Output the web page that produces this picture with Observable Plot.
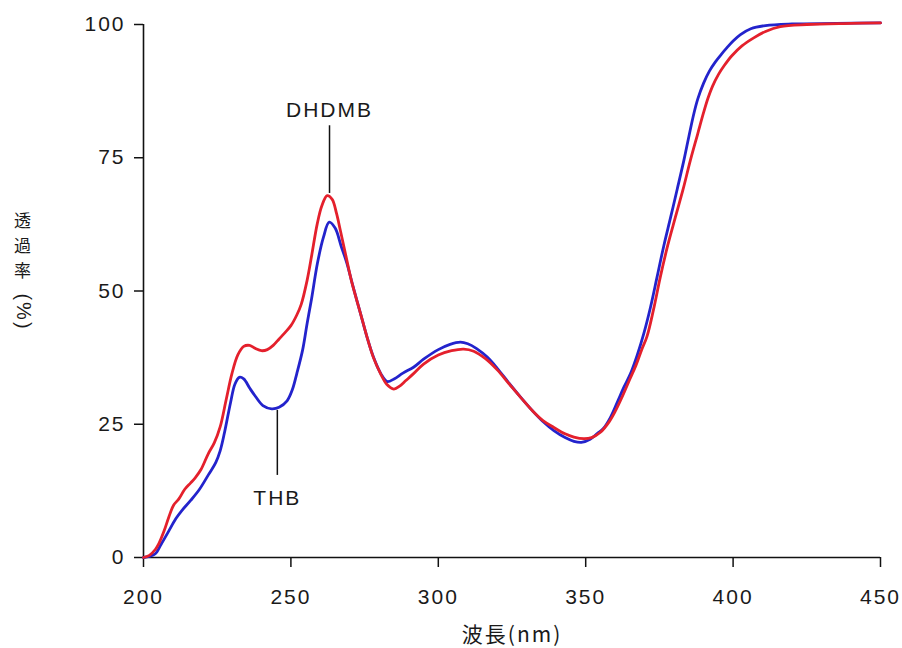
<!DOCTYPE html>
<html><head><meta charset="utf-8">
<script src="https://cdn.jsdelivr.net/npm/d3@7"></script>
<script src="https://cdn.jsdelivr.net/npm/@observablehq/plot@0.6"></script>
<style>body{margin:0;background:#fff;} #chart svg{display:block}</style>
</head><body><div id="chart"></div>
<script>
const xTicks = [200, 250, 300, 350, 400, 450];
const yTicks = [0, 25, 50, 75, 100];

// THB (blue)
const thbWavelength = [200,202,204,206,208.6,211,213,216,219,222,224.5,226,227.5,229.5,231,232.5,234,236,238,240.5,243.5,246,248.7,250.5,252,254,255.5,257,259,261,263,265,267,269,271,273.6,276,278,280.5,282.7,285,288,291.6,295,300,304,307.5,310,313,316.6,320,324,327.9,332,335.5,339.2,343,346,348.5,351.5,354,356,358.4,361,363,365.2,367.5,369.7,372,374.2,376.5,378.8,381,383.3,385,386.7,388,390,392,394,396,398,400,402.5,406,411,420,435,450];
const thbTransmittance = [0,0.2,0.7,2.5,5,7.3,8.8,10.7,12.8,15.5,17.8,20,23.5,29,32.5,33.8,33.5,31.8,30.2,28.5,27.9,28.2,29.4,31.5,34.5,39,43.9,48.5,55.2,60,62.9,61.8,58.5,55.2,51,45.8,41,37.6,34.5,33,33.5,34.6,35.7,37.2,39,40,40.4,40.1,39.2,37.6,35.5,32.7,30.1,27.5,25.5,23.8,22.5,21.8,21.6,22.2,23.3,24.2,26.3,29.5,32,34.5,38,42,47,52.6,58.5,63.8,69,74.5,79,83.3,86,89,91.3,93,94.4,95.7,96.9,98.1,99.2,99.8,100.1,100.2,100.3];

// DHDMB (red)
const dhdmbWavelength = [200,202,204,205.2,207,208.6,210.2,212,214,216,217.6,219.5,222,224,226,228,230,232,234,236,238,240,242,244,246,248,250,252,253.5,255.5,257,258.9,260.5,262.3,264,265.5,266.8,268.5,270.5,273.6,276,278,280.4,282.5,284.9,287,289,291.6,295,300,304.5,308.6,312,316,320,324,328,332,335.5,339.2,343,346,349.4,352,355,358,360,362.5,365,367,369,370.8,373,375.3,377.8,380.4,383,385.5,388,390,391.5,393,395,397,399.5,403,407,411,416,425,440,450];
const dhdmbTransmittance = [0,0.4,1.5,2.6,5,7.6,9.8,11,12.8,14,15,16.5,19.5,21.5,24.5,29.5,34.5,38,39.6,39.8,39.2,38.8,39,39.8,41,42.2,43.5,45.5,47.5,52,56.5,62.5,66,67.9,67.2,64.5,61.3,57,52,45.8,41,37.5,34.5,32.5,31.6,32.2,33.2,34.5,36.3,38,38.8,39.1,38.7,37.3,35.2,32.6,30,27.5,25.7,24.4,23.2,22.6,22.3,22.5,23.5,25.5,27.4,30.3,33.5,36,39,41.5,46.5,52.6,58.5,63.8,69,74.5,79.5,83.5,86.2,88.4,90.6,92.3,94.1,96,97.5,98.7,99.6,100,100.2,100.3];

// Annotations
const annotNames = ["DHDMB", "THB"];
const annotX = [263.1, 245.4];
const annotLineFrom = [68.3, 27.6];
const annotLineTo = [81, 15.4];
const annotTextY = [83.9, 11.1];

const xLabel = "波長(nm)";
const yLabelChars = ["透", "過", "率"];
const yLabelUnit = "(%)";

const thb = thbWavelength.map((x, i) => ({x, y: thbTransmittance[i]}));
const dhdmb = dhdmbWavelength.map((x, i) => ({x, y: dhdmbTransmittance[i]}));
const annots = annotNames.map((name, i) => ({name, x: annotX[i], lo: annotLineFrom[i], hi: annotLineTo[i], ty: annotTextY[i]}));

const latin = "'Liberation Sans', Arial, 'Noto Sans CJK JP', sans-serif";
const cjk = "'Noto Sans CJK JP', 'Liberation Sans', sans-serif";

const yCharMarks = yLabelChars.map((ch, i) =>
  Plot.text([ch], {text: d => d, frameAnchor: "left", textAnchor: "middle", dx: -120, dy: -69 + i * 24.8, fontSize: 17, fontFamily: cjk, fill: "#1a1a1a"})
);

const chart = Plot.plot({
  width: 902, height: 648,
  marginLeft: 143, marginRight: 22, marginTop: 24, marginBottom: 91,
  style: {fontFamily: latin, fontSize: "21px", color: "#1a1a1a", background: "#fff", letterSpacing: "2px"},
  x: {domain: [200, 450]},
  y: {domain: [0, 100]},
  marks: [
    Plot.axisX({ticks: xTicks, tickSize: 10, tickPadding: 22, fontSize: 21, label: null, stroke: "#111", strokeWidth: 1.5}),
    Plot.axisY({ticks: yTicks, tickSize: 9, tickPadding: 9, fontSize: 21, label: null, stroke: "#111", strokeWidth: 1.5}),
    Plot.ruleY([0], {stroke: "#111", strokeWidth: 1.6}),
    Plot.ruleX([200], {stroke: "#111", strokeWidth: 1.6}),
    Plot.line(thb, {x: "x", y: "y", stroke: "#2323cc", strokeWidth: 2.8, curve: "catmull-rom"}),
    Plot.line(dhdmb, {x: "x", y: "y", stroke: "#e4202c", strokeWidth: 2.8, curve: "catmull-rom"}),
    Plot.ruleX(annots, {x: "x", y1: "lo", y2: "hi", stroke: "#111", strokeWidth: 1.5}),
    Plot.text(annots, {x: "x", y: "ty", text: "name", fontSize: 21, fill: "#1a1a1a"}),
    Plot.text([xLabel], {text: d => d, frameAnchor: "bottom", dy: 84, fontSize: 21, fontFamily: cjk, fill: "#1a1a1a"}),
    ...yCharMarks,
    Plot.text([yLabelUnit], {text: d => d, frameAnchor: "left", textAnchor: "middle", dx: -120, dy: 21, rotate: 90, fontSize: 20, fontFamily: latin, fill: "#1a1a1a"})
  ]
});

document.getElementById("chart").appendChild(chart);
</script>
</body></html>
